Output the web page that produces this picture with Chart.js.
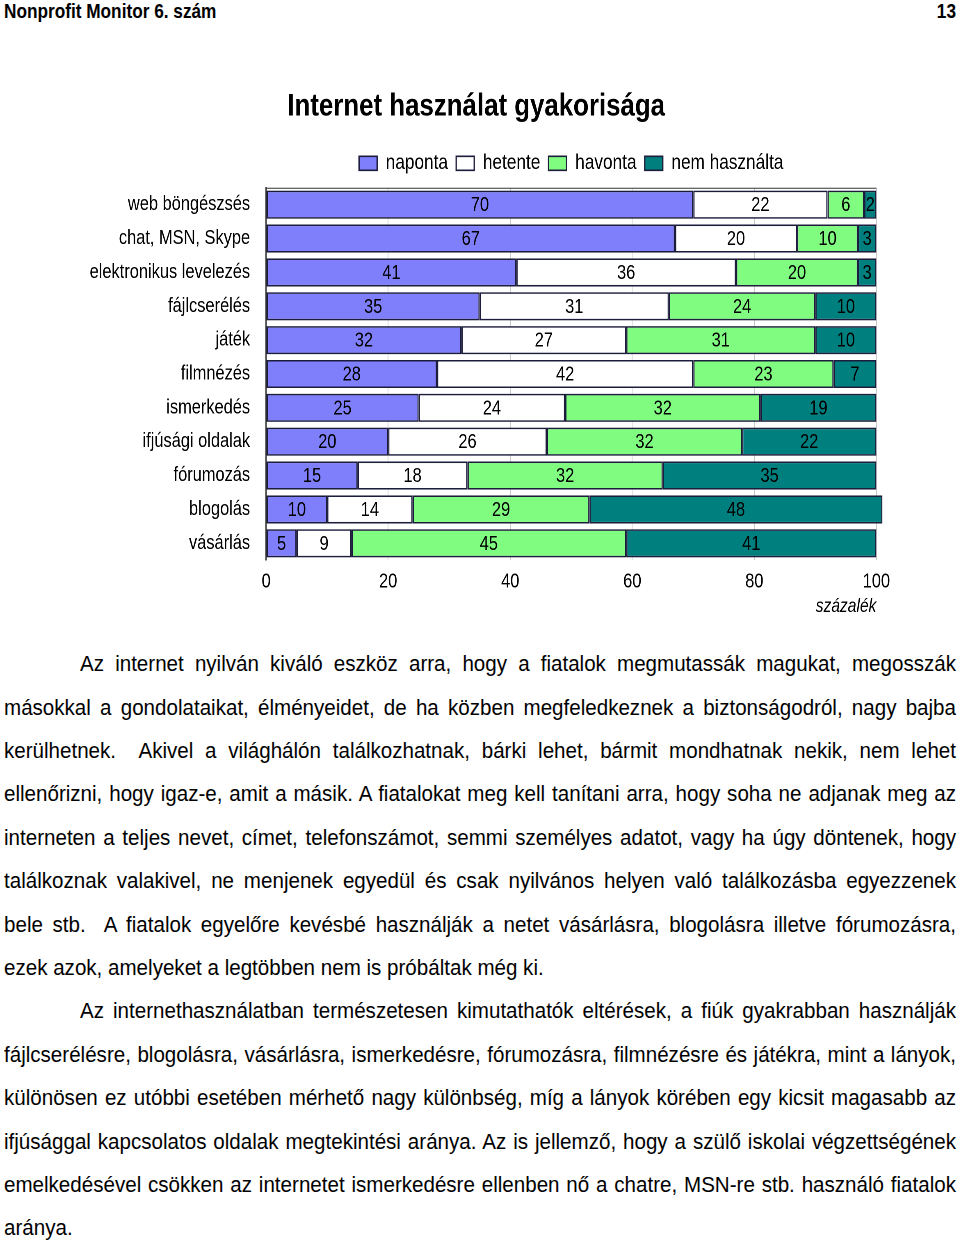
<!DOCTYPE html>
<html>
<head>
<meta charset="utf-8">
<script src="https://cdn.jsdelivr.net/npm/chart.js@4.4.1/dist/chart.umd.min.js"></script>
<style>
  body { margin: 0; background: #fff; font-family: "Liberation Sans", Arial, sans-serif; color: #000; }
  #page { position: relative; width: 960px; height: 1242px; overflow: hidden; }
  /* Arial Narrow is not installed: squeeze Liberation Sans horizontally instead */
  #head { position: absolute; left: 4px; top: 0; width: 1161px; height: 22px; font-weight: bold; font-size: 21px; line-height: 22px;
          transform: scaleX(0.82); transform-origin: 0 0; }
  #head span { position: absolute; right: 0; top: 0; }
  #wrap { position: absolute; left: 0; top: 80px; width: 1170.7px; height: 540px; transform: scaleX(0.82); transform-origin: 0 0; }
  #text { position: absolute; left: 4px; top: 642.3px; width: 952px; font-size: 22px; }
  #text div { height: 43.4px; line-height: 43.4px; white-space: nowrap; text-align: justify; text-align-last: justify; transform-origin: 0 0; }
  #text div.last { text-align-last: left; }
</style>
</head>
<body>
<div id="page">
  <div id="head">Nonprofit Monitor 6. szám<span>13</span></div>
  <div id="wrap"><canvas id="chart"></canvas></div>
  <div id="text">
    <div class="ind">Az internet nyilván kiváló eszköz arra, hogy a fiatalok megmutassák magukat, megosszák</div>
    <div>másokkal a gondolataikat, élményeidet, de ha közben megfeledkeznek a biztonságodról, nagy bajba</div>
    <div>kerülhetnek.&nbsp; Akivel a világhálón találkozhatnak, bárki lehet, bármit mondhatnak nekik, nem lehet</div>
    <div>ellenőrizni, hogy igaz-e, amit a másik. A fiatalokat meg kell tanítani arra, hogy soha ne adjanak meg az</div>
    <div>interneten a teljes nevet, címet, telefonszámot, semmi személyes adatot, vagy ha úgy döntenek, hogy</div>
    <div>találkoznak valakivel, ne menjenek egyedül és csak nyilvános helyen való találkozásba egyezzenek</div>
    <div>bele stb.&nbsp; A fiatalok egyelőre kevésbé használják a netet vásárlásra, blogolásra illetve fórumozásra,</div>
    <div class="last">ezek azok, amelyeket a legtöbben nem is próbáltak még ki.</div>
    <div class="ind">Az internethasználatban természetesen kimutathatók eltérések, a fiúk gyakrabban használják</div>
    <div>fájlcserélésre, blogolásra, vásárlásra, ismerkedésre, fórumozásra, filmnézésre és játékra, mint a lányok,</div>
    <div>különösen ez utóbbi esetében mérhető nagy különbség, míg a lányok körében egy kicsit magasabb az</div>
    <div>ifjúsággal kapcsolatos oldalak megtekintési aránya. Az is jellemző, hogy a szülő iskolai végzettségének</div>
    <div>emelkedésével csökken az internetet ismerkedésre ellenben nő a chatre, MSN-re stb. használó fiatalok</div>
    <div class="last">aránya.</div>
  </div>
</div>
<script>
// fit each text line: condensed like the original, justified to the column
(function() {
  var full = 952, indent = 76, squeeze = 0.935;
  document.querySelectorAll('#text div').forEach(function(d) {
    var avail = d.classList.contains('ind') ? full - indent : full;
    var probe = document.createElement('span');
    probe.textContent = d.textContent;
    probe.style.whiteSpace = 'nowrap';
    document.getElementById('text').appendChild(probe);
    var natural = probe.getBoundingClientRect().width;
    probe.remove();
    var s = Math.min(squeeze, avail / (natural + 2));
    d.style.width = (avail / s) + 'px';
    d.style.transform = 'translateX(' + (full - avail) + 'px) scaleX(' + s + ')';
  });
})();

var FONT = '"Liberation Sans", Arial, sans-serif';
var SQ = 0.82;

var categories = ['web böngészsés', 'chat, MSN, Skype', 'elektronikus levelezés', 'fájlcserélés', 'játék',
  'filmnézés', 'ismerkedés', 'ifjúsági oldalak', 'fórumozás', 'blogolás', 'vásárlás'];
var naponta      = [70, 67, 41, 35, 32, 28, 25, 20, 15, 10, 5];
var hetente      = [22, 20, 36, 31, 27, 42, 24, 26, 18, 14, 9];
var havonta      = [6, 10, 20, 24, 31, 23, 32, 32, 32, 29, 45];
var nemHasznalta = [2, 3, 3, 10, 10, 7, 19, 22, 35, 48, 41];
var xTicks = [0, 20, 40, 60, 80, 100];

Chart.defaults.font.family = FONT;
Chart.defaults.color = '#000';

// value labels in the middle of each bar piece
var barLabels = {
  id: 'barLabels',
  afterDatasetsDraw: function(chart) {
    var ctx = chart.ctx;
    ctx.save();
    ctx.font = '20px ' + FONT;
    ctx.fillStyle = '#000';
    ctx.textAlign = 'center';
    ctx.textBaseline = 'middle';
    chart.data.datasets.forEach(function(ds, i) {
      chart.getDatasetMeta(i).data.forEach(function(bar, j) {
        ctx.fillText(ds.data[j], (bar.x + bar.base) / 2, bar.y + 1);
      });
    });
    ctx.restore();
  }
};

// thin frame line on top of the plot area
var topLine = {
  id: 'topLine',
  beforeDatasetsDraw: function(chart) {
    var a = chart.chartArea, ctx = chart.ctx;
    ctx.save();
    ctx.strokeStyle = '#333';
    ctx.lineWidth = 1;
    ctx.beginPath();
    ctx.moveTo(a.left, a.top + 0.5);
    ctx.lineTo(a.right, a.top + 0.5);
    ctx.stroke();
    ctx.restore();
  }
};

function ds(label, data, color) {
  return {
    label: label,
    data: data,
    backgroundColor: color,
    borderColor: '#1c1c3c',
    borderWidth: 1.6,
    borderSkipped: false,
    categoryPercentage: 1,
    barPercentage: 0.83,
    clip: false
  };
}

var chart = new Chart(document.getElementById('chart'), {
  type: 'bar',
  data: {
    labels: categories,
    datasets: [
      ds('naponta', naponta, '#7f7ffb'),
      ds('hetente', hetente, '#ffffff'),
      ds('havonta', havonta, '#80fc80'),
      ds('nem használta', nemHasznalta, '#007f7f')
    ]
  },
  plugins: [barLabels, topLine],
  options: {
    indexAxis: 'y',
    responsive: true,
    maintainAspectRatio: false,
    devicePixelRatio: 2,
    animation: false,
    layout: { padding: { left: 76 / SQ, right: 84 / SQ, top: 0, bottom: 0 } },
    plugins: {
      title: {
        display: true,
        text: 'Internet használat gyakorisága',
        font: { size: 31.5, weight: 'bold' },
        color: '#000',
        padding: { top: 8, bottom: 17 }
      },
      // empty spacer between legend and plot
      subtitle: {
        display: true,
        text: '',
        weight: 500,
        font: { size: 1, lineHeight: 1 },
        padding: { top: 0, bottom: 3 }
      },
      legend: {
        position: 'top',
        fullSize: false,
        labels: {
          boxWidth: 22,
          boxHeight: 14,
          padding: 10,
          font: { size: 21 },
          color: '#000'
        }
      },
      tooltip: { enabled: false }
    },
    scales: {
      x: {
        stacked: true,
        min: 0,
        max: 100,
        afterBuildTicks: function(scale) {
          scale.ticks = xTicks.map(function(v) { return { value: v }; });
        },
        grid: { color: '#c8c8c8', drawTicks: false },
        border: { display: false },
        ticks: { padding: 10, font: { size: 20 }, color: '#000' },
        title: {
          display: true,
          text: 'százalék',
          align: 'end',
          font: { size: 19, style: 'italic' },
          color: '#000',
          padding: { top: -9, bottom: 2 }
        }
      },
      y: {
        stacked: true,
        afterFit: function(scale) { scale.width = (266 - 76) / SQ; },
        grid: { display: false, drawTicks: false },
        border: { display: true, color: '#333', width: 1.5 },
        ticks: { padding: 16 / SQ, font: { size: 20 }, color: '#000' }
      }
    }
  }
});
</script>
</body>
</html>
